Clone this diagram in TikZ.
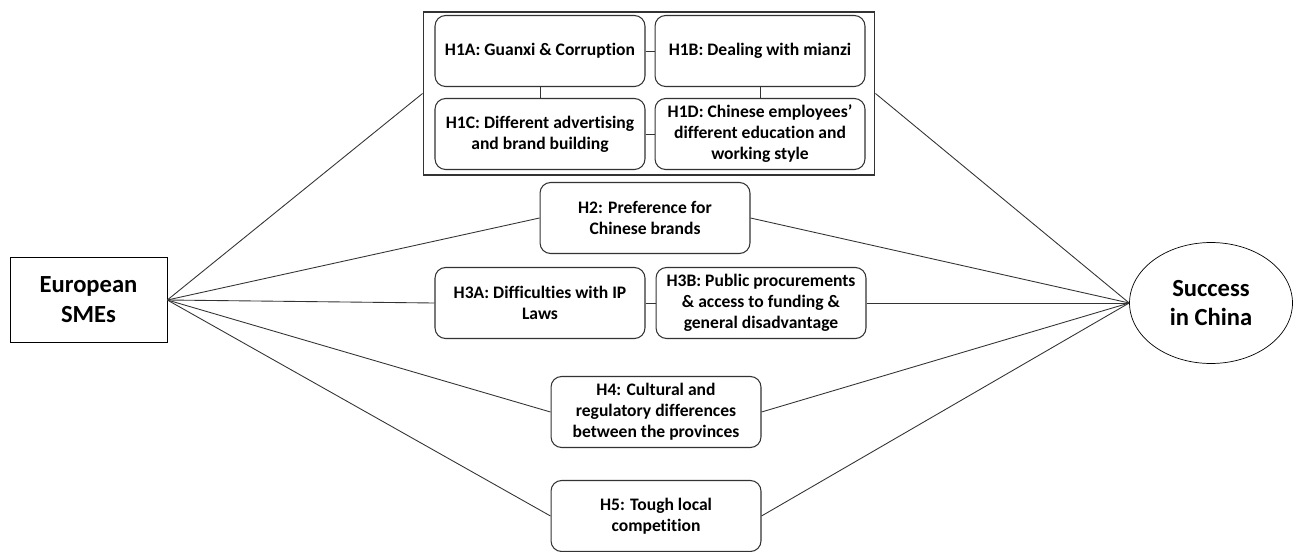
\documentclass[tikz,border=0pt]{standalone}
\usepackage{fontspec}
\setmainfont{Carlito}[Ligatures={NoCommon}]
\usepackage{tikz}
\usetikzlibrary{shapes.geometric}

\begin{document}
\begin{tikzpicture}[x=0.02cm, y=-0.02cm,
	hbox/.style={shape=rectangle, rounded corners=6pt, draw=black!80, line width=0.6pt, minimum width=4.2cm, minimum height=1.42cm, align=center, font=\fontsize{10}{12}\selectfont\bfseries, inner sep=2pt},
	link/.style={draw=black!80, line width=0.5pt}]
		\useasboundingbox (0,0) rectangle (1298,551);
		
		\node[shape=rectangle, draw=black, minimum width=3.14cm, minimum height=1.7cm, align=center, font=\fontsize{14}{17}\selectfont\bfseries] (SME) at (88.5,300) {European\\SMEs};
		\node[shape=ellipse, draw=black, minimum width=3.26cm, minimum height=2.42cm, align=center, font=\fontsize{14}{17}\selectfont\bfseries] (SC) at (1211,303) {Success\\in China};
		
		\node[shape=rectangle, draw=black!80, line width=0.6pt, minimum width=9.04cm, minimum height=3.26cm] (H1) at (649,93.5) {};
		\node[hbox] (H1A) at (540,51) {H1A: Guanxi \& Corruption};
		\node[hbox] (H1B) at (760,51) {H1B: Dealing with mianzi};
		\node[hbox] (H1C) at (540,134) {H1C: Different advertising\\and brand building};
		\node[hbox] (H1D) at (760,134) {H1D: Chinese employees'\\different education and\\working style};
		
		\node[hbox] (H2) at (645,218) {H2: Preference for\\Chinese brands};
		\node[hbox] (H3A) at (540,303) {H3A: Difficulties with IP\\Laws};
		\node[hbox] (H3B) at (761,303) {H3B: Public procurements\\\& access to funding \&\\general disadvantage};
		\node[hbox] (H4) at (656,412) {H4: Cultural and\\regulatory differences\\between the provinces};
		\node[hbox] (H5) at (656,516) {H5: Tough local\\competition};
		
		\path[link](H1A) edge (H1B);
		\path[link](H1A) edge (H1C);
		\path[link](H1B) edge (H1D);
		\path[link](H1C) edge (H1D);
		\path[link](H3A) edge (H3B);
		
		\path[link](SME.east) edge (H1.west);
		\path[link](SME.east) edge (H2.west);
		\path[link](SME.east) edge (H3A.west);
		\path[link](SME.east) edge (H4.west);
		\path[link](SME.east) edge (H5.west);
		
		\path[link](H1.east) edge (SC.west);
		\path[link](H2.east) edge (SC.west);
		\path[link](H3B.east) edge (SC.west);
		\path[link](H4.east) edge (SC.west);
		\path[link](H5.east) edge (SC.west);
		
	\end{tikzpicture}
\end{document}
